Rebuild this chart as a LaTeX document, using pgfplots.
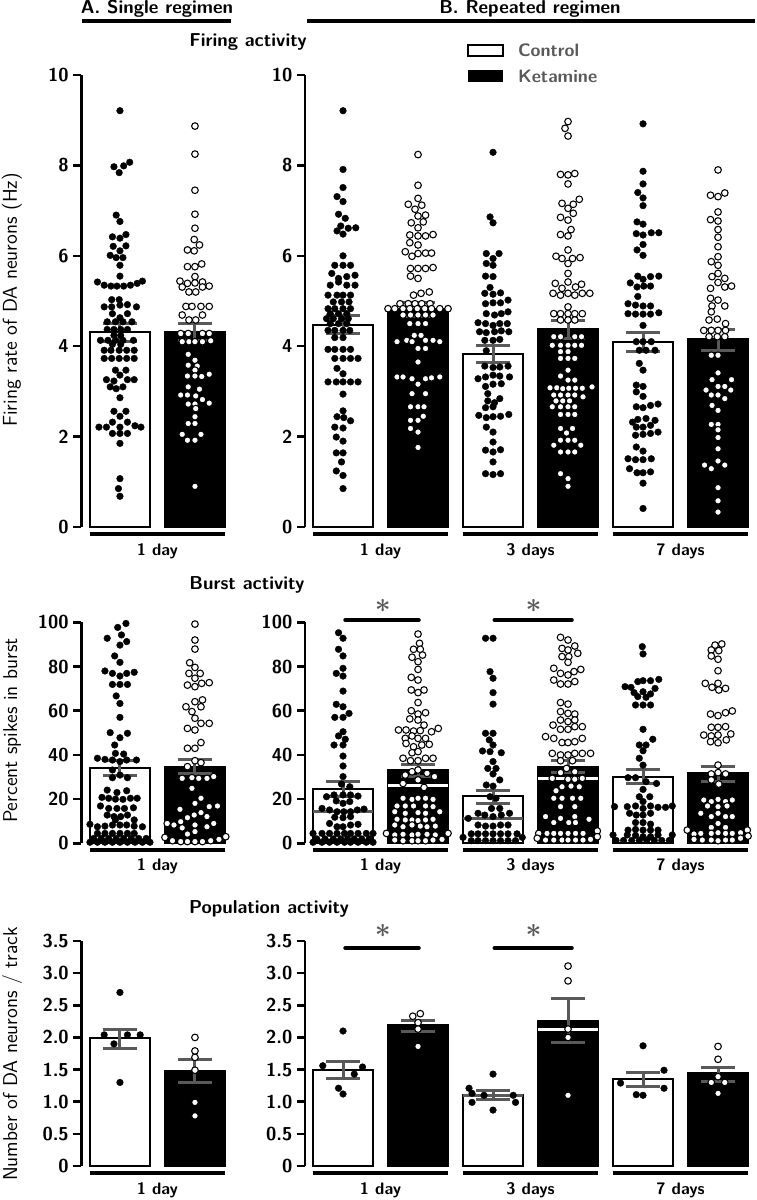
\documentclass[border=0pt]{standalone}
\usepackage{pgfplots}
\pgfplotsset{compat=1.18}
\definecolor{eg}{HTML}{595959}
\renewcommand{\familydefault}{\sfdefault}
\pgfplotsset{
  panel/.style={scale only axis, clip=false, anchor=south west,
    axis x line=none, axis y line*=left,
    y axis line style={line width=1.9pt,-},
    ytick style={line width=1.9pt, black}, tick align=outside, major tick length=6pt,
    yticklabel style={font=\fontsize{14}{16}\selectfont\bfseries, black},
    /pgf/number format/assume math mode=true,
    xtick=\empty},
  ctrlbar/.style={ybar, bar width=0.81, bar shift=0pt, fill=white, draw=black, line width=1.5pt},
  ketbar/.style={ybar, bar width=0.81, bar shift=0pt, fill=black, draw=black, line width=1.5pt},
  ctrldot/.style={only marks, mark=*, mark size=2.5pt, mark options={fill=black, draw=black, line width=0.3pt}},
  ketdot/.style={only marks, mark=*, mark size=2.5pt, mark options={fill=white, draw=black, line width=0.8pt}},
  errb/.style={draw=none, mark=none, error bars/.cd, y dir=both, y explicit, error mark=|,
    error bar style={draw=eg, line width=2.25pt},
    error mark options={draw=eg, line width=2.25pt, mark size=12.75pt}},
  med/.style={line width=2.25pt, eg},
  wmed/.style={line width=2.25pt, white},
}
\tikzset{
  grp/.style={font=\fontsize{12.5}{14}\selectfont\bfseries},
  ttl/.style={font=\fontsize{14}{16}\selectfont\bfseries},
  star/.style={text=eg, font=\fontsize{21}{21}\selectfont\boldmath},
  ylab/.style={rotate=90, font=\fontsize{15}{17}\selectfont},
}
\begin{document}
\begin{tikzpicture}
\path[use as bounding box] (0,0) rectangle (567.75pt,-900pt);
% headers
\node[ttl] at (117.75pt,-6.75pt) {A. Single regimen};
\draw[line width=3pt] (61.5pt,-15.75pt) -- (173.25pt,-15.75pt);
\node[ttl] at (397.5pt,-6.75pt) {B. Repeated regimen};
\draw[line width=3pt] (230.25pt,-15.75pt) -- (566.25pt,-15.75pt);
\node[ttl] at (186pt,-31.5pt) {Firing activity};
\node[ttl] at (185.25pt,-438.75pt) {Burst activity};
\node[ttl] at (201.75pt,-681.75pt) {Population activity};
% legend
\draw[line width=1pt, fill=white] (351pt,-33.75pt) rectangle (377.25pt,-42pt);
\fill[black] (351pt,-52.5pt) rectangle (377.25pt,-61.5pt);
\node[anchor=west, text=eg, font=\fontsize{13.5}{15}\selectfont\bfseries] at (385pt,-37.9pt) {Control};
\node[anchor=west, text=eg, font=\fontsize{13.5}{15}\selectfont\bfseries] at (385pt,-57pt) {Ketamine};
% y labels
\node[ylab] at (9pt,-225pt) {Firing rate of DA neurons (Hz)};
\node[ylab] at (9pt,-548pt) {Percent spikes in burst};
\node[ylab] at (9pt,-790.5pt) {Number of DA neurons / track};

%================ ROW 1 LEFT =================
\begin{axis}[panel, at={(61.1pt,-395.25pt)}, width=108.75pt, height=339pt,
  xmin=-0.513, xmax=1.42, ymin=0, ymax=10, ytick={0,2,4,6,8,10}]
\addplot[ctrlbar] coordinates {(0,4.31)};
\addplot[ketbar] coordinates {(1,4.32)};
\addplot[ctrldot] table {
x y
0 9.21
-0.08 7.97
0.05 7.99
0.13 8.07
-0.01 7.84
-0.05 6.90
0 6.76
-0.10 6.42
0 6.39
0.08 6.47
-0.09 6.21
0.08 6.22
0 6.11
-0.13 6.01
-0.05 5.96
0.04 5.96
0 5.79
0 5.55
-0.30 5.42
-0.21 5.35
-0.12 5.33
-0.04 5.33
0.05 5.33
0.14 5.35
0.23 5.39
0.30 5.44
-0.11 5.03
-0.01 5.03
-0.21 4.87
-0.11 4.87
0 4.91
0.10 4.92
0.22 4.87
-0.10 4.72
0.10 4.72
0 4.63
-0.17 4.54
-0.06 4.54
0.04 4.54
0.16 4.54
-0.17 4.37
-0.08 4.37
0.01 4.37
0.10 4.37
-0.08 4.24
0.01 4.24
-0.26 4.13
-0.16 4.13
-0.06 4.13
0.04 4.13
0.18 4.13
-0.10 4.04
0.01 4.04
-0.21 3.91
-0.12 3.91
-0.01 3.91
0.09 3.91
0.19 3.91
-0.21 3.73
-0.11 3.73
-0.01 3.73
0.09 3.73
0.19 3.73
-0.06 3.47
0.08 3.47
0 3.36
-0.18 3.26
-0.08 3.23
0.10 3.26
0.19 3.26
-0.13 3.10
-0.05 3.06
0.04 3.10
0 2.86
-0.08 2.56
0.08 2.56
0 2.45
-0.10 2.32
0.10 2.32
-0.28 2.21
-0.18 2.21
0 2.21
0.20 2.24
0.28 2.21
-0.10 2.07
0 2.07
0.10 2.07
0 1.85
0 1.07
-0.02 0.85
0 0.68
};
\addplot[ketdot] table {
x y
1 8.87
1 8.25
1 7.45
1 6.92
1 6.61
0.99 6.36
1.06 6.24
0.90 6.13
0.99 6.11
0.90 5.76
1 5.76
1.09 5.82
1 5.54
0.80 5.44
0.90 5.39
1 5.40
1.10 5.42
0.83 5.31
0.92 5.20
1.01 5.20
1.10 5.31
1.19 5.33
0.88 4.88
0.96 4.88
1.08 4.88
1.19 4.88
0.83 4.69
1.10 4.69
0.92 4.58
1.01 4.58
0.81 4.28
0.91 4.28
1.10 4.28
1.19 4.28
0.83 4.10
0.92 4.10
1 4.10
1.10 4.10
1.21 4.12
0.91 3.82
1 3.69
0.91 3.58
1.03 3.56
1 3.47
0.90 3.34
1 3.34
1.09 3.33
1.19 3.38
0.91 3.10
1.06 3.05
0.81 2.92
0.90 2.92
1.01 2.90
1.10 2.82
0.91 2.72
1 2.72
1.19 2.74
1.01 2.62
1 2.44
0.91 2.29
1 2.29
0.83 2.05
1.08 2.05
0.90 1.92
1 1.92
1 0.90
};
\addplot[errb] coordinates {(0,4.31) +- (0,0.20) (1,4.32) +- (0,0.19)};
\draw[line width=3pt] ([yshift=-5pt]axis cs:-0.405,0) -- ([yshift=-5pt]axis cs:1.405,0);
\node[grp] at ([yshift=-18pt]axis cs:0.5,0) {1 day};
\end{axis}

%================ ROW 1 RIGHT =================
\begin{axis}[panel, at={(228.75pt,-395.25pt)}, width=333.4pt, height=339pt,
  xmin=-0.507, xmax=5.42, ymin=0, ymax=10, ytick={0,2,4,6,8,10}]
\addplot[ctrlbar] coordinates {(0,4.48) (2,3.83) (4,4.09)};
\addplot[ketbar] coordinates {(1,4.83) (3,4.39) (5,4.15)};
\addplot[ctrldot] table {
x y
0 9.21
0 7.91
0 7.51
-0.08 7.31
0 7.20
-0.06 6.92
0.03 6.83
-0.03 6.66
0.07 6.61
0.17 6.62
-0.08 6.55
0 6.48
0 6.00
-0.11 5.79
0 5.79
0.10 5.79
-0.15 5.61
-0.06 5.50
0.05 5.54
0.16 5.57
-0.06 5.42
-0.17 5.35
0.05 5.35
0.16 5.35
-0.20 5.13
-0.08 5.13
0 5.13
0.10 5.13
-0.13 4.98
-0.02 4.98
0.08 4.98
-0.20 4.83
-0.11 4.83
0 4.83
0.10 4.83
-0.17 4.72
-0.06 4.72
0.05 4.72
-0.22 4.61
-0.13 4.61
-0.02 4.61
0.07 4.61
-0.17 4.50
-0.06 4.50
0.05 4.50
-0.20 4.35
-0.11 4.35
0 4.35
0.09 4.35
-0.11 4.19
0 4.19
-0.20 3.93
-0.11 3.93
0 3.93
0.10 3.93
-0.11 3.73
0 3.73
0.10 3.73
0.20 3.73
-0.08 3.51
0 3.39
-0.20 3.21
-0.09 3.21
0 3.21
0.10 3.21
0.20 3.21
0 2.94
0 2.57
-0.08 2.44
0.01 2.42
0.10 2.35
-0.11 2.21
0 2.19
-0.09 1.99
0 1.90
-0.09 1.64
0 1.64
-0.02 1.44
-0.09 1.24
0 1.14
0 0.85
2 8.29
1.96 6.86
2 6.73
1.91 6.05
2.08 6.05
2 5.94
1.91 5.83
2 5.79
1.90 5.55
2 5.54
1.96 5.30
1.89 5.17
2 5.15
2.10 5.18
1.90 4.94
2 4.96
2.10 4.96
2.20 5.02
1.91 4.72
2.02 4.69
2.11 4.72
2.20 4.76
1.80 4.52
1.90 4.50
2 4.46
2.09 4.50
2.19 4.50
1.82 4.32
1.91 4.30
2.02 4.32
2.11 4.34
2.21 4.32
1.89 4.13
2 4.13
2.09 4.15
1.91 3.90
1.89 3.56
2 3.53
2.09 3.54
2.20 3.56
1.80 3.28
1.90 3.32
2 3.36
2.09 3.34
2.22 3.32
1.90 3.11
2 3.16
2.11 3.17
1.93 2.95
2.09 2.84
1.93 2.79
2.02 2.75
1.90 2.64
2 2.66
1.81 2.47
1.91 2.42
2 2.44
2.10 2.45
2.21 2.49
1.91 2.21
2 2.10
2 1.88
1.90 1.70
2 1.66
2.10 1.71
2 1.44
1.90 1.18
2 1.16
2.10 1.18
4 8.92
4 7.87
4 7.59
3.93 7.40
4 7.28
4 7.11
3.92 6.75
4 6.70
3.91 6.49
4 6.46
4.11 6.51
4.21 6.51
4 6.25
3.92 6.13
4 6.01
3.93 5.55
4 5.48
4.10 5.54
4.21 5.55
3.83 5.40
3.92 5.31
4.01 5.33
4.10 5.33
3.93 5.10
3.80 4.94
3.90 4.91
4 4.89
4.10 4.89
3.80 4.72
3.90 4.71
4 4.71
4.10 4.71
4.21 4.74
4 4.46
3.91 4.10
4 4.10
4.11 4.10
3.95 3.91
4.04 3.91
4.16 3.91
3.95 3.62
4 3.47
3.91 3.14
4 3.11
3.91 2.99
4 2.89
3.91 2.66
4 2.64
4.10 2.69
4.20 2.72
3.93 2.38
4.04 2.40
4.16 2.36
3.86 2.32
3.91 2.21
4 2.21
4.10 2.25
3.90 2.03
4 2.05
4.10 2.07
4.20 2.10
3.91 1.77
4 1.68
3.80 1.51
3.90 1.49
4 1.49
4.11 1.51
3.82 1.29
3.92 1.20
4 1.20
4.10 1.22
4 0.97
4 0.41
};
\addplot[ketdot] table {
x y
1 8.24
1 7.56
1 7.27
0.87 7.14
0.96 7.03
1.05 7.12
1 6.88
1.10 6.90
0.91 6.73
1.07 6.75
1 6.62
0.89 6.46
1 6.44
1.10 6.44
1.20 6.47
0.89 6.29
1 6.24
0.83 6.09
0.92 5.99
1 6.05
1.10 6.06
1.18 6.06
0.90 5.72
1 5.72
1.10 5.72
1.20 5.74
0.90 5.55
1 5.50
0.94 5.13
1.04 5.17
1.15 5.20
0.76 4.94
0.87 4.94
0.96 4.94
1.05 4.94
1.16 4.94
0.60 4.83
0.69 4.83
0.80 4.83
0.89 4.83
0.99 4.83
1.09 4.83
1.18 4.83
1.29 4.83
1.40 4.83
0.80 4.69
0.90 4.69
1 4.69
1.10 4.69
1.20 4.69
0.89 4.50
1 4.50
1.10 4.50
0.95 4.24
1.04 4.24
0.85 4.13
1.10 4.13
1.20 4.13
0.72 4.10
0.92 4.10
1.29 4.10
1 3.95
1.10 3.95
1 3.65
0.72 3.32
0.80 3.32
0.92 3.28
1.10 3.28
1.18 3.30
1.29 3.32
1 3.16
0.92 2.95
1.10 2.95
0.90 2.66
1 2.66
1.08 2.66
1.07 2.45
0.90 2.36
1 2.36
0.90 2.18
1 2.10
1 1.76
3 8.97
2.96 8.82
3 8.65
2.90 7.80
3 7.79
3.09 7.82
3 7.59
2.92 7.16
3 7.05
3.07 7.14
3.15 7.25
2.90 6.85
3 6.79
3.07 6.94
2.90 6.47
3 6.44
3.04 6.58
3 6.13
2.84 5.99
2.92 5.94
3 5.83
3.06 5.94
3.16 5.96
3 5.61
2.83 5.39
2.92 5.28
3 5.42
3.10 5.31
3.18 5.37
2.80 5.17
2.90 5.13
3 5.17
3.09 5.13
3.19 5.17
3.29 5.17
3 4.87
2.81 4.72
2.90 4.72
3 4.72
3.09 4.72
3.19 4.72
2.90 4.58
3 4.58
3.09 4.58
2.81 4.21
2.90 4.21
3.09 4.21
3.18 4.21
2.79 4.02
2.90 4.02
3 4.02
3.09 4.02
3.18 4.02
2.90 3.88
3 3.88
2.90 3.73
3 3.73
3.09 3.73
3 3.47
2.90 3.34
3 3.25
3.09 3.25
2.76 3.08
2.85 3.08
2.93 3.06
3.01 3.07
3.10 3.07
3.19 3.07
3.32 3.10
2.81 2.92
2.90 2.92
3 2.92
3.09 2.92
3.20 2.88
2.84 2.79
2.93 2.79
3.02 2.79
2.79 2.66
2.90 2.66
3 2.66
3.09 2.66
2.90 2.49
3 2.49
3.09 2.49
2.90 2.18
3.06 2.18
2.98 2.08
2.90 1.92
3 1.92
3.09 1.92
2.81 1.81
3.17 1.81
2.90 1.66
3 1.66
3.09 1.66
2.90 1.18
3 1.07
3 0.90
5 7.90
4.90 7.34
5 7.31
5.09 7.39
5 6.97
4.90 6.80
5 6.77
5 6.58
5 6.41
5 6.20
5 5.98
4.91 5.87
5 5.79
4.92 5.54
5 5.61
5.09 5.50
4.90 5.28
5 5.41
5.09 5.31
5.18 5.33
4.90 5.06
5 5.02
4.92 4.89
5.09 4.89
4.91 4.76
4.88 4.58
4.99 4.60
5.10 4.50
4.81 4.35
4.91 4.35
5 4.35
5.10 4.35
4.88 4.21
4.99 4.21
5.09 4.21
4.91 3.80
5 3.80
5 3.41
4.92 3.26
5.18 3.26
5 3.11
5.09 3.11
4.84 3.03
5.17 3.03
4.91 2.92
5 2.92
5.09 2.84
4.92 2.69
5 2.58
4.91 2.27
5 2.27
5 2.15
5 1.98
5 1.73
5 1.46
4.82 1.37
5.09 1.37
4.91 1.29
5 0.87
5 0.58
5 0.33
};
\addplot[errb] coordinates {(0,4.48) +- (0,0.20) (1,4.81) +- (0,0.15) (2,3.83) +- (0,0.18) (3,4.37) +- (0,0.20) (4,4.09) +- (0,0.21) (5,4.14) +- (0,0.24)};
\draw[line width=3pt] ([yshift=-5pt]axis cs:-0.405,0) -- ([yshift=-5pt]axis cs:1.405,0);
\draw[line width=3pt] ([yshift=-5pt]axis cs:1.595,0) -- ([yshift=-5pt]axis cs:3.405,0);
\draw[line width=3pt] ([yshift=-5pt]axis cs:3.595,0) -- ([yshift=-5pt]axis cs:5.405,0);
\node[grp] at ([yshift=-18pt]axis cs:0.5,0) {1 day};
\node[grp] at ([yshift=-18pt]axis cs:2.5,0) {3 days};
\node[grp] at ([yshift=-18pt]axis cs:4.5,0) {7 days};
\end{axis}

%================ ROW 2 LEFT =================
\begin{axis}[panel, at={(61.1pt,-632.5pt)}, width=108.75pt, height=165.75pt,
  xmin=-0.513, xmax=1.42, ymin=0, ymax=100, ytick={0,20,40,60,80,100}]
\addplot[ctrlbar] coordinates {(0,33.9)};
\addplot[ketbar] coordinates {(1,34.7)};
\addplot[ctrldot] table {
x y
0.08 99.5
-0.03 97.7
0.02 94.3
-0.17 92.8
0.09 91.3
0 89.7
-0.07 84.8
0 81.9
-0.20 78.0
-0.10 76.9
0 75.7
0.09 76.9
0.19 77.4
-0.10 71.9
0 71.9
0.10 71.9
-0.05 66.7
0 63.3
0 57.0
-0.13 50.1
0.10 49.8
0 47.8
-0.07 44.5
-0.06 40.7
0.05 40.4
-0.30 38.5
-0.20 38.0
-0.10 37.7
0 37.0
0.09 37.7
0.22 37.7
-0.10 33.2
0 30.9
-0.10 29.7
0.10 29.7
-0.17 24.1
-0.04 23.0
0.09 23.8
-0.24 20.8
-0.15 20.4
-0.06 20.0
0.04 19.9
0.14 20.4
0.23 20.4
-0.26 16.9
-0.15 15.8
-0.04 15.8
0.06 15.8
0.18 16.1
-0.17 12.8
-0.08 12.1
0.01 12.1
0.10 12.8
-0.06 10.6
0.19 10.6
-0.40 8.6
-0.30 7.5
-0.20 7.8
-0.10 8.3
0 8.3
0.09 8.3
0.19 7.8
0.30 7.5
-0.30 4.5
-0.20 4.5
-0.10 4.5
0 4.5
0.10 4.5
0.19 4.5
-0.35 2.2
-0.25 2.2
-0.15 2.2
-0.05 2.2
0.05 2.2
0.15 2.2
0.25 2.2
0.35 2.2
-0.40 0.5
-0.30 0.5
-0.20 0.5
-0.10 0.5
0 0.5
0.10 0.5
0.20 0.5
0.30 0.5
0.40 0.5
};
\addplot[ketdot] table {
x y
1 99.2
1 92.0
1 87.9
0.93 81.7
1 79.6
0.92 76.9
1.07 76.9
1 74.7
0.90 71.6
1 70.9
1.09 72.4
1.19 72.7
1 64.1
1.10 64.9
0.88 61.8
0.96 59.6
1.08 61.8
1 56.6
1.08 54.3
1.19 54.3
0.90 52.0
1 51.3
0.90 43.0
1 43.0
1.08 45.6
1 37.4
0.90 34.7
1.08 36.5
0.83 29.4
0.96 29.7
1.05 29.4
1.16 29.4
1.25 30.2
0.96 24.9
1.08 20.4
0.80 15.4
1 18.1
1.19 16.6
1.30 16.9
1.08 13.9
0.99 12.8
0.90 11.6
1.16 12.1
0.81 9.8
0.63 9.0
0.72 8.3
0.83 7.0
1 8.3
1.16 7.5
1.25 9.0
0.90 4.2
1 5.3
0.60 2.7
0.70 1.2
0.81 0.8
0.90 0.8
1 0.8
1.10 0.8
1.21 1.2
1.32 1.8
1.41 3.0
};
\addplot[errb] coordinates {(0,33.9) +- (0,3.4) (1,34.7) +- (0,3.2)};
\draw[line width=3pt] ([yshift=-5pt]axis cs:-0.405,0) -- ([yshift=-5pt]axis cs:1.405,0);
\node[grp] at ([yshift=-17pt]axis cs:0.5,0) {1 day};
\end{axis}

%================ ROW 2 RIGHT =================
\begin{axis}[panel, at={(228.75pt,-632.5pt)}, width=333.4pt, height=165.75pt,
  xmin=-0.507, xmax=5.42, ymin=0, ymax=100, ytick={0,20,40,60,80,100}]
\addplot[ctrlbar] coordinates {(0,24.7) (2,21.4) (4,30.2)};
\addplot[ketbar] coordinates {(1,33.2) (3,34.7) (5,31.7)};
\addplot[med] coordinates {(-0.405,14.6) (0.405,14.6)};
\addplot[med] coordinates {(1.595,11.3) (2.405,11.3)};
\addplot[wmed] coordinates {(0.595,26.4) (1.405,26.4)};
\addplot[wmed] coordinates {(2.595,29.4) (3.405,29.4)};
\addplot[ctrldot] table {
x y
-0.06 95.3
0 92.8
-0.06 87.8
0 84.8
0 79.2
-0.09 76.9
0 75.7
0 68.9
-0.09 62.9
0 61.8
-0.11 57.0
0 57.0
0.08 58.8
0 50.5
-0.06 48.6
0.03 47.1
-0.12 44.5
0 44.5
0 39.5
0 35.0
0 30.2
-0.02 26.8
0.09 25.6
-0.22 21.1
-0.12 21.9
0 21.9
0.10 21.9
0.20 21.4
-0.09 19.2
0 18.1
0.09 18.9
-0.28 15.8
-0.18 15.1
-0.08 14.3
0.01 14.3
0.10 14.3
0.19 15.1
0.28 15.5
-0.11 11.8
0 11.6
0.10 12.1
-0.18 9.0
-0.08 7.5
0 7.5
0.10 8.3
0.20 8.6
-0.40 4.5
-0.28 4.5
-0.18 4.5
-0.08 4.5
0.02 4.5
0.10 4.5
0.20 4.5
0.31 4.5
0.40 4.5
-0.35 2.0
-0.24 2.0
-0.13 2.0
-0.03 2.0
0.06 2.0
0.15 2.0
0.25 2.0
0.35 2.0
-0.40 0.5
-0.28 0.5
-0.18 0.5
-0.08 0.5
0.02 0.5
0.10 0.5
0.20 0.5
0.31 0.5
0.40 0.5
1.90 92.8
2 92.8
1.96 77.7
2 74.7
2 68.2
2 63.0
1.90 49.8
2 49.8
1.95 46.8
2 44.5
1.86 41.8
1.96 41.5
2.11 41.0
2 37.0
1.93 33.9
2.04 33.9
2 31.4
2.09 28.7
1.91 26.4
2 25.9
1.96 21.1
2.04 20.4
1.98 15.8
2.09 15.8
1.80 13.6
1.89 12.8
2 12.1
2.11 12.8
2.22 13.6
1.67 11.3
1.80 8.3
1.90 7.8
2 7.8
2.10 8.3
2.20 8.3
1.71 4.3
1.80 4.3
1.90 4.3
2 4.3
2.10 4.3
2.20 4.3
2.32 4.3
1.60 2.7
1.71 1.2
1.80 1.2
1.90 1.2
2 1.2
2.10 1.2
2.20 1.2
2.30 1.2
2.39 2.7
3.99 89.0
4 85.7
3.76 70.9
3.84 70.6
3.93 73.2
4 73.6
4.10 73.6
4.21 74.2
3.88 68.2
4 68.6
4.16 70.1
3.93 66.4
4.04 66.1
4.10 67.6
3.90 62.6
4 62.6
4.10 62.6
4 51.6
4.13 47.1
3.95 44.5
4.04 44.5
4 41.9
3.95 38.5
4 35.4
3.80 29.7
3.90 29.7
4.04 27.9
4.18 27.1
4 24.4
3.95 21.1
4.09 21.1
4 18.9
3.62 16.6
3.79 16.6
3.90 16.9
4 15.8
4.10 16.9
4.20 16.3
4.30 16.3
4.39 16.9
3.82 13.6
3.91 12.8
4 12.8
4.10 13.6
3.90 9.4
4 9.4
4.10 8.7
3.80 6.0
3.90 6.3
4 6.0
4.10 6.0
4.20 6.0
3.60 3.8
3.79 3.8
3.90 3.6
4 3.0
4.10 3.0
4.20 3.8
4.39 3.8
3.64 1.3
3.74 1.3
3.85 1.3
3.95 1.3
4.05 1.3
4.15 1.3
4.25 1.3
4.35 1.3
};
\addplot[ketdot] table {
x y
1 94.7
1.02 90.5
0.94 87.8
1.03 87.8
1.06 85.2
0.92 84.2
1 82.2
1 78.7
0.91 75.1
1 73.9
0.91 69.4
1 68.2
1.08 69.4
1 63.7
0.91 60.0
1 58.5
1.10 59.1
0.89 56.3
1 55.8
1.08 53.5
0.74 51.3
0.84 51.3
0.94 50.8
1.03 51.0
1.18 50.5
1.27 52.0
0.92 48.6
0.83 47.5
1 47.5
1.10 47.5
0.84 45.2
0.94 43.7
1.05 44.5
1.15 44.8
0.92 41.0
1 41.5
0.80 38.5
0.90 37.4
1 37.4
1.10 38.5
1.20 38.5
0.92 32.4
1 33.2
1.12 31.7
0.83 30.9
1.22 30.2
1 28.7
1.08 25.3
0.80 27.1
0.80 20.4
0.92 19.9
1 20.4
1.10 20.4
1.20 19.9
0.72 16.9
0.83 16.9
0.94 16.9
1.10 16.9
1.20 16.6
0.69 14.3
0.83 13.6
1 13.9
1.10 13.6
1.29 14.3
0.72 10.9
0.83 10.6
0.92 10.6
1 10.3
1.10 10.6
1.20 10.9
0.69 8.3
0.80 7.5
0.92 8.3
1.03 7.8
1.12 7.5
1.23 7.8
0.58 4.5
0.69 3.8
0.80 4.1
0.92 3.8
1 4.1
1.12 4.1
1.23 3.8
1.40 4.5
0.69 1.5
0.80 1.2
0.92 1.2
1 1.2
1.10 1.2
1.20 1.5
1.32 1.8
2.90 93.2
3 92.0
3.09 89.3
2.92 88.2
3 87.5
2.92 84.5
3.01 84.5
3.13 86.0
3 81.9
2.81 79.2
2.90 76.9
3 76.2
3.08 77.7
3.17 78.7
2.81 73.9
2.90 72.1
3 72.1
3.09 73.2
2.90 63.7
3 63.0
2.90 59.6
3 58.8
3.09 58.5
2.90 55.8
3 55.1
3.09 55.8
2.80 53.5
2.90 51.6
3 51.6
3.09 52.8
3.19 52.8
2.70 48.3
2.81 47.5
2.92 45.6
3 45.6
3.09 46.0
3.19 47.5
2.79 40.7
2.90 40.0
3 40.0
3.09 40.7
3.19 40.7
3.30 40.7
2.90 37.4
3.06 37.4
2.98 33.9
2.90 32.0
3.09 32.4
2.79 29.4
3 29.0
3.09 29.0
3.19 29.4
2.92 25.6
3.04 25.9
3.15 25.6
2.84 23.8
2.81 20.4
2.92 20.4
3.06 20.4
3.17 20.4
2.90 16.6
3.09 16.6
2.70 12.1
2.90 11.3
3.09 12.1
2.81 9.4
3.01 9.4
3.10 9.4
3.28 10.9
2.61 4.5
2.72 4.5
2.81 4.5
2.90 4.5
3 4.5
3.10 4.5
3.20 4.5
3.39 5.6
2.59 2.3
2.70 1.5
2.81 1.5
2.92 1.5
3 1.5
3.10 1.5
3.20 1.5
3.30 1.8
3.39 3.0
4.96 89.7
5.05 90.2
4.91 87.5
5.01 87.2
4.91 84.8
5 83.3
5 78.1
4.83 72.4
4.92 70.6
5 72.4
5.01 69.4
5.10 70.1
4.90 58.5
5 57.8
5.10 59.1
5.19 59.9
4.91 52.5
5 52.5
5.10 52.8
4.81 49.0
4.91 48.6
5 49.0
5.17 49.5
4.90 46.0
5 45.5
5.11 46.8
5 35.4
4.91 31.4
5 32.0
5.10 31.4
4.91 28.7
5.01 26.8
4.81 19.6
4.91 18.9
5 19.9
5.10 18.9
5.19 19.6
4.86 16.9
5 16.6
5.12 16.9
4.77 13.6
4.91 12.1
5 13.6
5.10 12.1
5.19 12.1
5 9.0
4.91 7.2
5.10 7.2
4.59 6.0
4.68 4.2
4.77 4.5
4.91 4.5
5 4.8
5.10 4.5
5.19 4.5
5.30 4.8
5.39 6.0
4.68 1.8
4.79 1.5
4.91 1.5
5 1.2
5.10 1.5
5.19 1.5
5.30 2.3
5.40 3.3
};
\addplot[errb] coordinates {(0,24.8) +- (0,3.4) (1,32.95) +- (0,2.75) (2,21.1) +- (0,3.0) (3,34.85) +- (0,2.85) (4,30.15) +- (0,3.05) (5,31.3) +- (0,3.4)};
\draw[line width=3pt, line cap=round] (axis cs:0.03,101) -- (axis cs:1.01,101);
\draw[line width=3pt, line cap=round] (axis cs:2.02,101) -- (axis cs:3.05,101);
\node[star] at (axis cs:0.53,107.5) {$\ast$};
\node[star] at (axis cs:2.54,107.5) {$\ast$};
\draw[line width=3pt] ([yshift=-5pt]axis cs:-0.405,0) -- ([yshift=-5pt]axis cs:1.405,0);
\draw[line width=3pt] ([yshift=-5pt]axis cs:1.595,0) -- ([yshift=-5pt]axis cs:3.405,0);
\draw[line width=3pt] ([yshift=-5pt]axis cs:3.595,0) -- ([yshift=-5pt]axis cs:5.405,0);
\node[grp] at ([yshift=-17pt]axis cs:0.5,0) {1 day};
\node[grp] at ([yshift=-17pt]axis cs:2.5,0) {3 days};
\node[grp] at ([yshift=-17pt]axis cs:4.5,0) {7 days};
\end{axis}

%================ ROW 3 LEFT =================
\begin{axis}[panel, at={(61.1pt,-874.5pt)}, width=108.75pt, height=168.75pt,
  xmin=-0.513, xmax=1.42, ymin=0, ymax=3.5, ytick={0,0.5,1,1.5,2,2.5,3,3.5},
  yticklabels={0,0.5,1.0,1.5,2.0,2.5,3.0,3.5}]
\addplot[ctrlbar] coordinates {(0,1.99)};
\addplot[ketbar] coordinates {(1,1.48)};
\addplot[ctrldot] table {
x y
0 2.70
-0.21 2.04
-0.08 1.90
0.10 2.04
0.27 2.04
0 1.30
};
\addplot[ketdot] table {
x y
1 2.00
1 1.79
1 1.69
1 1.49
1 0.99
1 0.78
};
\addplot[errb] coordinates {(0,1.98) +- (0,0.15) (1,1.475) +- (0,0.175)};
\draw[line width=3pt] ([yshift=-5.25pt]axis cs:-0.405,0) -- ([yshift=-5.25pt]axis cs:1.405,0);
\node[grp] at ([yshift=-18pt]axis cs:0.5,0) {1 day};
\end{axis}

%================ ROW 3 RIGHT =================
\begin{axis}[panel, at={(228.75pt,-874.5pt)}, width=333.4pt, height=168.75pt,
  xmin=-0.507, xmax=5.42, ymin=0, ymax=3.5, ytick={0,0.5,1,1.5,2,2.5,3,3.5},
  yticklabels={0,0.5,1.0,1.5,2.0,2.5,3.0,3.5}]
\addplot[ctrlbar] coordinates {(0,1.50) (2,1.11) (4,1.36)};
\addplot[ketbar] coordinates {(1,2.20) (3,2.25) (5,1.44)};
\addplot[wmed] coordinates {(2.595,2.13) (3.405,2.13)};
\addplot[med] coordinates {(1.595,1.10) (2.405,1.10)};
\addplot[ctrldot] table {
x y
0 2.10
-0.27 1.56
0.26 1.54
0.15 1.43
-0.06 1.21
0 1.12
2 1.43
1.68 1.21
1.72 1.13
1.72 0.99
2.27 1.10
2.30 0.99
2 0.87
1.88 1.10
4 1.87
3.70 1.29
3.91 1.11
4 1.10
4.28 1.49
4.28 1.21
};
\addplot[ketdot] table {
x y
0.93 2.33
1.03 2.37
1 2.23
1 2.13
1 1.86
3 3.11
3 2.88
3 2.13
3 2.00
3 1.10
5 1.86
5 1.66
5 1.39
4.91 1.30
5.09 1.30
5 1.13
};
\addplot[errb] coordinates {(0,1.49) +- (0,0.13) (1,2.185) +- (0,0.085) (2,1.11) +- (0,0.07) (3,2.26) +- (0,0.34) (4,1.35) +- (0,0.11) (5,1.425) +- (0,0.105)};
\draw[line width=3pt, line cap=round] (axis cs:0.03,3.39) -- (axis cs:1.01,3.39);
\draw[line width=3pt, line cap=round] (axis cs:2.02,3.39) -- (axis cs:3.05,3.39);
\node[star] at (axis cs:0.53,3.65) {$\ast$};
\node[star] at (axis cs:2.54,3.65) {$\ast$};
\draw[line width=3pt] ([yshift=-5.25pt]axis cs:-0.405,0) -- ([yshift=-5.25pt]axis cs:1.405,0);
\draw[line width=3pt] ([yshift=-5.25pt]axis cs:1.595,0) -- ([yshift=-5.25pt]axis cs:3.405,0);
\draw[line width=3pt] ([yshift=-5.25pt]axis cs:3.595,0) -- ([yshift=-5.25pt]axis cs:5.405,0);
\node[grp] at ([yshift=-18pt]axis cs:0.5,0) {1 day};
\node[grp] at ([yshift=-18pt]axis cs:2.5,0) {3 days};
\node[grp] at ([yshift=-18pt]axis cs:4.5,0) {7 days};
\end{axis}
\end{tikzpicture}
\end{document}
